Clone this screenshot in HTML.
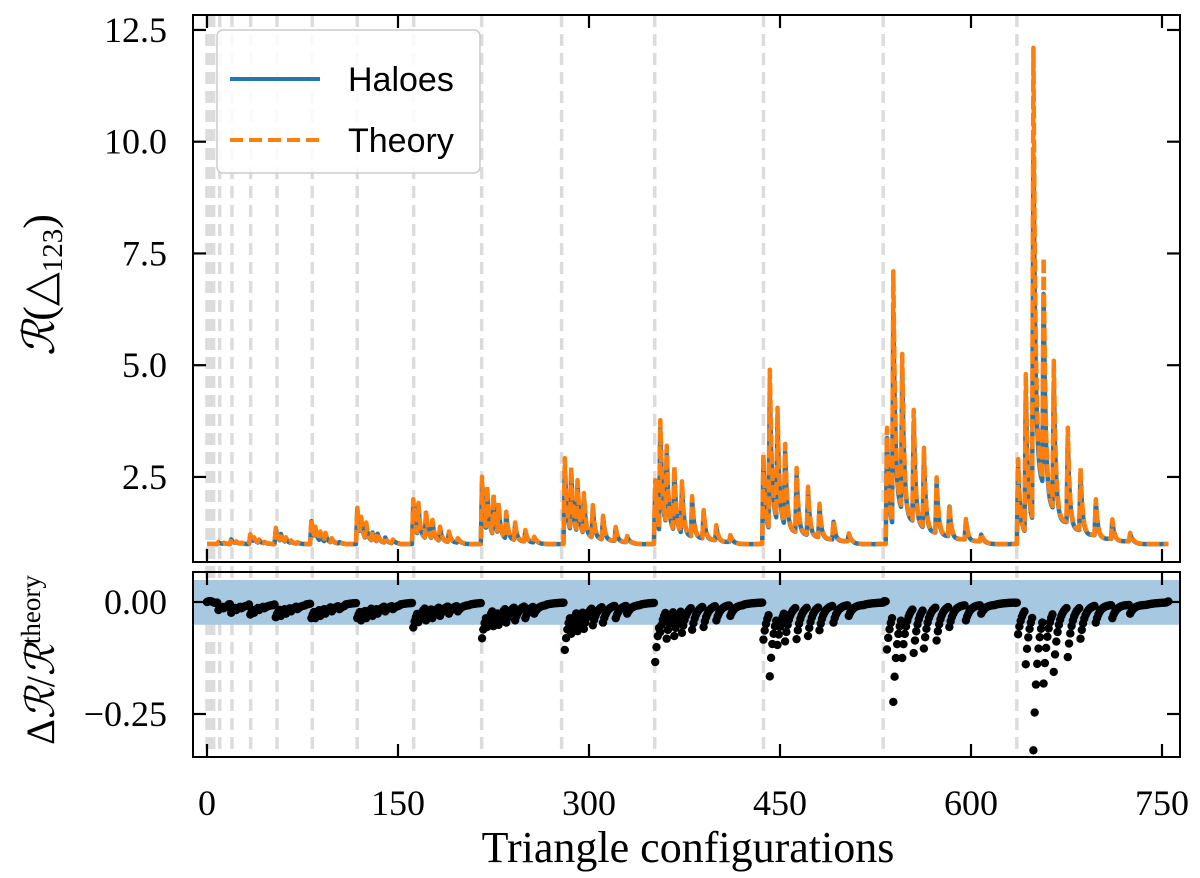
<!DOCTYPE html>
<html><head><meta charset="utf-8"><style>
body{margin:0;background:#fff}
svg text{font-family:"Liberation Serif","DejaVu Serif",serif;fill:#000}
</style></head><body>
<svg id="chart" width="1200" height="873" viewBox="0 0 1200 873" xmlns="http://www.w3.org/2000/svg">
<g id="gridG"></g>
<rect x="193" y="580" width="987" height="44.8" fill="#a6c8e1"></rect>
<g id="topG"></g>
<g id="botG"></g>
<rect x="193" y="15" width="987" height="547" fill="none" stroke="#000" stroke-width="2"></rect>
<rect x="193" y="572" width="987" height="185" fill="none" stroke="#000" stroke-width="2"></rect>
<g id="ticksG"></g>
<text x="688" y="862" font-size="44" text-anchor="middle">Triangle configurations</text>
<text transform="translate(54,285) rotate(-90)" font-size="44" text-anchor="middle"><tspan font-style="italic">ℛ</tspan>(△<tspan font-size="29" dy="8">123</tspan><tspan dy="-8">)</tspan></text>
<text transform="translate(54,660) rotate(-90)" font-size="40" text-anchor="middle">Δ<tspan font-style="italic">ℛ</tspan>/<tspan font-style="italic">ℛ</tspan><tspan font-size="27" dy="-14">theory</tspan></text>
<g>
<rect x="217" y="30" width="263" height="143" rx="6" fill="#fff" fill-opacity="0.85" stroke="#ccc" stroke-width="1.5"></rect>
<line x1="230" y1="79" x2="320" y2="79" stroke="#1f77b4" stroke-width="4"></line>
<text x="348" y="91" font-size="34" style="font-family:'Liberation Sans',sans-serif">Haloes</text>
<line x1="230" y1="140" x2="320" y2="140" stroke="#ff7f0e" stroke-width="4" stroke-dasharray="13,6"></line>
<text x="348" y="152" font-size="34" style="font-family:'Liberation Sans',sans-serif">Theory</text>
</g>
</svg>
<script>
const separators=[0,2.6,5.2,10,19.6,34.3,55,82.7,118,162.3,215.7,278.5,351.6,437,531,636];
const blockEnds=[16,32,52,77,108,151,206,266,340,421,516,619,738];
const spikePos=[
[9.4,12.6],[19,23,27],[33.5,37.4,41.4,45.3],[54.4,57.9,62.3,66.2,70.7],
[82,85.4,88.5,92.9,98.2,104.2],[118,121.4,125.3,129.5,134.4,139.7,146.3],
[162,166,171.7,177.2,183,190.3,197.4],[216.2,219.9,224.6,229.3,235,241.9,249.5,257.3],
[280.6,286,291,296,303.4,311.4,321,330],[352.3,355.5,360.6,366.6,373.3,381.2,390.2,400.2,411],
[437,441.7,447.7,454.4,462.6,471.5,481,491.8,504],[533.6,539,546,554.6,563,572.5,583.4,595.5,608.3],
[637,643,649,657,665,676,686,698,711,725]];
const spikeHeights=[
[1.05,1.03],[1.12,1.06,1.03],[1.22,1.15,1.1,1.05],[1.36,1.25,1.15,1.08,1.04],
[1.54,1.39,1.28,1.25,1.13,1.05],[1.81,1.61,1.48,1.28,1.25,1.16,1.1],
[2.0,1.92,1.74,1.54,1.39,1.28,1.13],[2.5,2.3,2.12,1.92,1.72,1.48,1.31,1.16],
[2.92,2.72,2.43,2.14,1.87,1.63,1.38,1.18],[2.43,3.77,3.2,2.74,2.4,2.07,1.76,1.42,1.2],
[3.0,4.9,4.05,3.24,2.7,2.28,1.9,1.54,1.24],[3.6,7.1,5.25,4.0,3.15,2.49,1.9,1.56,1.23],
[2.9,4.8,12.1,7.4,5.1,3.6,2.7,2.0,1.55,1.25]];
const residDips=[
[-0.012,-0.008],[-0.018,-0.012,-0.008],[-0.022,-0.018,-0.012,-0.008],[-0.028,-0.025,-0.02,-0.015,-0.01],
[-0.03,-0.03,-0.025,-0.02,-0.015,-0.01],[-0.03,-0.035,-0.03,-0.025,-0.02,-0.015,-0.01],
[-0.051,-0.039,-0.035,-0.03,-0.025,-0.02,-0.015],[-0.075,-0.05,-0.048,-0.045,-0.04,-0.035,-0.03,-0.02],
[-0.101,-0.065,-0.059,-0.054,-0.046,-0.04,-0.03,-0.02],[-0.128,-0.061,-0.076,-0.07,-0.063,-0.056,-0.05,-0.035,-0.025],
[-0.078,-0.16,-0.09,-0.082,-0.077,-0.07,-0.057,-0.04,-0.025],[-0.1,-0.217,-0.119,-0.108,-0.098,-0.08,-0.05,-0.035,-0.02],
[-0.066,-0.133,-0.325,-0.176,-0.15,-0.117,-0.076,-0.04,-0.03,-0.02]];
const xTicks=[0,150,300,450,600,750];
const topYTicks=[2.5,5.0,7.5,10.0,12.5];
const botYTicks=[0,-0.25];
const botYLabels=["0.00","\u22120.25"];
const nConfig=756;

const NS="http://www.w3.org/2000/svg";
const X=v=>207+v*1.27333;
const YT=v=>544-(v-1)*44.7;
const YB=v=>602-v*448;
function mk(tag,attrs,parent){const e=document.createElementNS(NS,tag);for(const k in attrs)e.setAttribute(k,attrs[k]);parent.appendChild(e);return e;}

const theory=[],resid=[];
for(let i=0;i<nConfig;i++){
  let v=1,r=0.002*Math.sin(i*0.7);
  for(let b=0;b<spikePos.length;b++){
    const ps=spikePos[b];const s0=Math.round(ps[0]);
    if(i<s0||i>blockEnds[b]+15)continue;
    let k=-1;for(let j=0;j<ps.length;j++){if(Math.round(ps[j])<=i)k=j;}
    if(k<0)continue;
    const d=i-Math.round(ps[k]);const h=spikeHeights[b][k];
    const last=(k===ps.length-1);
    v=last?1+(h-1)*Math.exp(-0.4*d):1+(h-1)*(0.12+0.88*Math.exp(-0.6*d));
    r=residDips[b][k]*Math.exp(-0.3*d)-0.006;
    if(i>blockEnds[b]){v=1;r=-0.006*Math.exp(-0.1*(i-blockEnds[b]));}
  }
  theory.push(v);resid.push(r);
}
const haloes=theory.map((v,i)=>v*(1+resid[i]*0.6));

const gridG=document.getElementById('gridG');
separators.forEach(s=>{
  const l=mk('line',{x1:X(s),x2:X(s),y1:15,y2:757,stroke:'#dcdcdc','stroke-width':3.5,'stroke-dasharray':'12,7'},gridG);
  
  
});

const topG=document.getElementById('topG');
const ptsH=haloes.map((v,i)=>X(i).toFixed(1)+','+YT(v).toFixed(1)).join(' ');
const ptsT=theory.map((v,i)=>X(i).toFixed(1)+','+YT(v).toFixed(1)).join(' ');
const lh=mk('polyline',{points:ptsH,fill:'none',stroke:'#1f77b4','stroke-width':4.5,'stroke-linejoin':'round'},topG);


const lt=mk('polyline',{points:ptsT,fill:'none',stroke:'#ff7f0e','stroke-width':4.5,'stroke-dasharray':'13,4','stroke-linejoin':'round'},topG);



const botG=document.getElementById('botG');
resid.forEach((r,i)=>{
  const c=mk('circle',{cx:X(i),cy:YB(r),r:4.2,fill:'#000'},botG);
  
  
});

const tk=document.getElementById('ticksG');
xTicks.forEach(t=>{
  [[15,1],[562,-1],[572,1],[757,-1]].forEach(([y,d])=>{
    const l=mk('line',{x1:X(t),x2:X(t),y1:y,y2:y+d*13,stroke:'#000','stroke-width':2.2},tk);
    
    
  });
  const tx=mk('text',{x:X(t),y:815,'font-size':36,'text-anchor':'middle'},tk);
  
  
  tx.textContent=String(t);
});
topYTicks.forEach(t=>{
  [[193,1],[1180,-1]].forEach(([x,d])=>{
    const l=mk('line',{x1:x,x2:x+d*13,y1:YT(t),y2:YT(t),stroke:'#000','stroke-width':2.2},tk);
    
    
  });
  const tx=mk('text',{x:167,y:YT(t)+12,'font-size':36,'text-anchor':'end'},tk);
  
  
  tx.textContent=t.toFixed(1);
});
botYTicks.forEach((t,i)=>{
  [[193,1],[1180,-1]].forEach(([x,d])=>{
    const l=mk('line',{x1:x,x2:x+d*13,y1:YB(t),y2:YB(t),stroke:'#000','stroke-width':2.2},tk);
    
    
  });
  const tx=mk('text',{x:167,y:YB(t)+12,'font-size':36,'text-anchor':'end'},tk);
  
  
  tx.textContent=botYLabels[i];
});
</script>
</body></html>
